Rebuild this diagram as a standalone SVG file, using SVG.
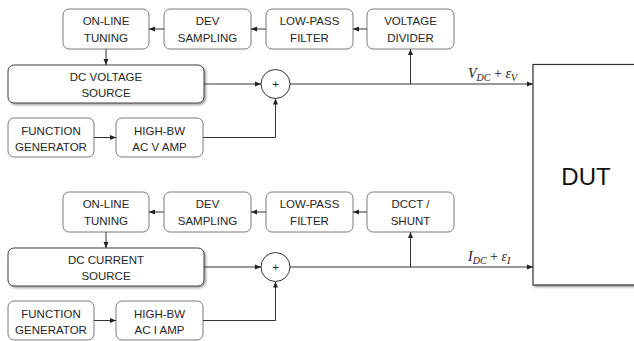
<svg xmlns="http://www.w3.org/2000/svg" width="634" height="341" viewBox="0 0 634 341">
<defs>
<style>
.box{fill:#fff;stroke:#7a7a7a;stroke-width:1}
.src{fill:#fff;stroke:#404040;stroke-width:1}
.t{font-family:"Liberation Sans",Arial,sans-serif;font-size:11.5px;fill:#262626;text-anchor:middle}
.ln{fill:none;stroke:#333;stroke-width:1}
.m{font-family:"Liberation Serif","Times New Roman",serif;font-style:italic;fill:#222}
</style>
<marker id="ah" viewBox="0 0 6 6" refX="6" refY="3" markerWidth="6" markerHeight="6" markerUnits="userSpaceOnUse" orient="auto">
<path d="M0,0.5 L6,3 L0,5.5 Z" fill="#222"/>
</marker>
<filter id="sh" x="-10%" y="-10%" width="130%" height="130%">
<feDropShadow dx="1.5" dy="1.5" stdDeviation="1" flood-color="#000" flood-opacity="0.4"/>
</filter>
</defs>

<g id="dut">
<rect x="533" y="64.5" width="110" height="220.5" fill="#fff" stroke="#333" stroke-width="1.2" filter="url(#sh)"/>
<text x="586" y="185" font-family="'Liberation Sans',Arial,sans-serif" font-size="24" fill="#111" text-anchor="middle">DUT</text>
</g>

<!-- Voltage chain -->
<g id="v-online"><rect class="box" x="63" y="9" width="86" height="40" rx="6"/><text class="t" x="106" y="25">ON-LINE</text><text class="t" x="106" y="41.5">TUNING</text></g>
<g id="v-dev"><rect class="box" x="164" y="9" width="87" height="40" rx="6"/><text class="t" x="207.5" y="25">DEV</text><text class="t" x="207.5" y="41.5">SAMPLING</text></g>
<g id="v-lpf"><rect class="box" x="266" y="9" width="87" height="40" rx="6"/><text class="t" x="309.5" y="25">LOW-PASS</text><text class="t" x="309.5" y="41.5">FILTER</text></g>
<g id="v-div"><rect class="box" x="367" y="9" width="87" height="40" rx="6"/><text class="t" x="410.5" y="25">VOLTAGE</text><text class="t" x="410.5" y="41.5">DIVIDER</text></g>
<g id="v-src"><rect class="src" x="8" y="65" width="196" height="38" rx="6" filter="url(#sh)"/><text class="t" x="106" y="80.5">DC VOLTAGE</text><text class="t" x="106" y="96.5">SOURCE</text></g>
<g id="v-sum"><circle cx="275.5" cy="84" r="14.5" fill="#fff" stroke="#333" stroke-width="1"/><text class="t" x="275.5" y="88" font-size="10">+</text></g>
<g id="v-fgen"><rect class="box" x="8" y="118" width="86" height="39" rx="6"/><text class="t" x="51" y="134.5">FUNCTION</text><text class="t" x="51" y="150.5">GENERATOR</text></g>
<g id="v-amp"><rect class="box" x="116" y="118" width="87" height="39" rx="6"/><text class="t" x="159.5" y="134.5">HIGH-BW</text><text class="t" x="159.5" y="150.5">AC V AMP</text></g>

<!-- Current chain -->
<g id="i-online"><rect class="box" x="63" y="192" width="86" height="40" rx="6"/><text class="t" x="106" y="208">ON-LINE</text><text class="t" x="106" y="224.5">TUNING</text></g>
<g id="i-dev"><rect class="box" x="164" y="192" width="87" height="40" rx="6"/><text class="t" x="207.5" y="208">DEV</text><text class="t" x="207.5" y="224.5">SAMPLING</text></g>
<g id="i-lpf"><rect class="box" x="266" y="192" width="87" height="40" rx="6"/><text class="t" x="309.5" y="208">LOW-PASS</text><text class="t" x="309.5" y="224.5">FILTER</text></g>
<g id="i-dcct"><rect class="box" x="367" y="192" width="87" height="40" rx="6"/><text class="t" x="410.5" y="208">DCCT /</text><text class="t" x="410.5" y="224.5">SHUNT</text></g>
<g id="i-src"><rect class="src" x="8" y="248" width="196" height="38" rx="6" filter="url(#sh)"/><text class="t" x="106" y="263.5">DC CURRENT</text><text class="t" x="106" y="279.5">SOURCE</text></g>
<g id="i-sum"><circle cx="275.5" cy="267" r="14.5" fill="#fff" stroke="#333" stroke-width="1"/><text class="t" x="275.5" y="271" font-size="10">+</text></g>
<g id="i-fgen"><rect class="box" x="8" y="301" width="86" height="39" rx="6"/><text class="t" x="51" y="317.5">FUNCTION</text><text class="t" x="51" y="333.5">GENERATOR</text></g>
<g id="i-amp"><rect class="box" x="116" y="301" width="87" height="39" rx="6"/><text class="t" x="159.5" y="317.5">HIGH-BW</text><text class="t" x="159.5" y="333.5">AC I AMP</text></g>

<g id="connectors">
<path class="ln" d="M164,29 H149" marker-end="url(#ah)"/>
<path class="ln" d="M266,29 H251" marker-end="url(#ah)"/>
<path class="ln" d="M367,29 H353" marker-end="url(#ah)"/>
<path class="ln" d="M106,49 V65" marker-end="url(#ah)"/>
<path class="ln" d="M204,84 H261" marker-end="url(#ah)"/>
<path class="ln" d="M94,137.5 H116" marker-end="url(#ah)"/>
<path class="ln" d="M203,137.5 H275.5 V98.5" marker-end="url(#ah)"/>
<path class="ln" d="M290,84 H533" marker-end="url(#ah)"/>
<path class="ln" d="M410.5,84 V49" marker-end="url(#ah)"/>

<path class="ln" d="M164,212 H149" marker-end="url(#ah)"/>
<path class="ln" d="M266,212 H251" marker-end="url(#ah)"/>
<path class="ln" d="M367,212 H353" marker-end="url(#ah)"/>
<path class="ln" d="M106,232 V248" marker-end="url(#ah)"/>
<path class="ln" d="M204,267 H261" marker-end="url(#ah)"/>
<path class="ln" d="M94,320.5 H116" marker-end="url(#ah)"/>
<path class="ln" d="M203,320.5 H275.5 V281.5" marker-end="url(#ah)"/>
<path class="ln" d="M290,267 H533" marker-end="url(#ah)"/>
<path class="ln" d="M410.5,267 V232" marker-end="url(#ah)"/>
</g>

<g id="labels">
<text class="m" x="468" y="78" font-size="14">V<tspan font-size="10" dy="2.5">DC</tspan><tspan font-style="normal" dy="-2.5"> + </tspan>ε<tspan font-size="10" dy="2.5">V</tspan></text>
<text class="m" x="468" y="261" font-size="14">I<tspan font-size="10" dy="2.5">DC</tspan><tspan font-style="normal" dy="-2.5"> + </tspan>ε<tspan font-size="10" dy="2.5">I</tspan></text>
</g>
</svg>
